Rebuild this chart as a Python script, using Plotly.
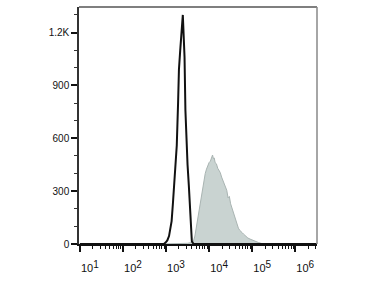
import plotly.graph_objects as go

# Black (unstained/control) histogram: log10 intensity and counts
black_log = [1.0, 2.95, 2.99, 3.03, 3.07, 3.10, 3.13, 3.16, 3.19, 3.22, 3.25, 3.28, 3.30,
             3.33, 3.355, 3.39, 3.41, 3.43, 3.45, 3.47, 3.50, 3.53, 3.56, 3.58, 3.60, 3.64, 6.5]
black_cnt = [0, 0, 8, 20, 45, 85, 130, 230, 340, 450, 560, 800, 990,
             1100, 1200, 1300, 1180, 1060, 760, 600, 450, 330, 200, 80, 15, 0, 0]

# Gray (stained) histogram
gray_log = [2.9, 3.3, 3.5, 3.6, 3.635, 3.67, 3.70, 3.73, 3.76, 3.79, 3.82, 3.85, 3.88, 3.91,
            3.94, 3.97, 4.00, 4.03, 4.06, 4.08, 4.10, 4.12, 4.14, 4.17, 4.20, 4.23, 4.26,
            4.29, 4.32, 4.35, 4.38, 4.41, 4.44, 4.47, 4.50, 4.53, 4.56, 4.59, 4.62, 4.65,
            4.68, 4.71, 4.74, 4.77, 4.80, 4.83, 4.86, 4.90, 4.95, 5.00, 5.05, 5.10, 5.15,
            5.22, 5.3, 5.5, 6.5]
gray_cnt = [0, 2, 4, 8, 15, 45, 90, 140, 180, 215, 260, 300, 355, 400,
            425, 450, 462, 470, 498, 505, 485, 488, 462, 455, 430, 418, 405,
            380, 362, 340, 320, 305, 262, 270, 228, 205, 170, 150, 125, 108,
            90, 78, 68, 64, 56, 48, 40, 34, 28, 22, 16, 14, 8,
            3, 1, 0, 0]

x_tick_vals = [1e1, 1e2, 1e3, 1e4, 1e5, 1e6]
x_exponents = ["1", "2", "3", "4", "5", "6"]
x_tick_text = ["10<sup><span style='font-size:10px'>%s</span></sup>" % e for e in x_exponents]
y_tick_vals = [0, 300, 600, 900, 1200]
y_tick_text = ["0", "300", "600", "900", "1.2K"]

fig = go.Figure()
fig.add_trace(go.Scatter(
    x=[10 ** v for v in gray_log], y=gray_cnt, mode="lines",
    fill="tozeroy", fillcolor="#c9d3d1",
    line=dict(color="#a9b4b2", width=1), hoverinfo="skip"))
fig.add_trace(go.Scatter(
    x=[10 ** v for v in black_log], y=black_cnt, mode="lines",
    line=dict(color="#111111", width=2), hoverinfo="skip"))

font = dict(family="Liberation Sans, Arial, sans-serif", size=10, color="#111")

fig.update_layout(
    width=380, height=285,
    margin=dict(l=79, r=63, t=7, b=41),
    paper_bgcolor="white", plot_bgcolor="white",
    showlegend=False, font=font,
    xaxis=dict(
        type="log", range=[0.98, 6.505],
        tickvals=x_tick_vals, ticktext=x_tick_text,
        ticks="outside", ticklen=6, tickwidth=1.5, tickcolor="#111",
        minor=dict(ticks="outside", ticklen=3, tickwidth=1, tickcolor="#111", dtick="D1"),
        showline=True, linecolor="#111", linewidth=2,
        showgrid=False, zeroline=False,
        ticklabelshift=10, ticklabelstandoff=7,
        tickfont=dict(size=11),
    ),
    yaxis=dict(
        range=[0, 1345],
        tickvals=y_tick_vals, ticktext=y_tick_text,
        ticks="outside", ticklen=6, tickwidth=1.5, tickcolor="#111",
        minor=dict(ticks="outside", ticklen=3, tickwidth=1, tickcolor="#333", dtick=100),
        showline=True, linecolor="#333", linewidth=1.5,
        showgrid=False, zeroline=False,
        tickfont=dict(size=10),
    ),
    shapes=[
        dict(type="line", xref="paper", yref="paper", x0=0, x1=1, y0=1, y1=1,
             line=dict(color="#555", width=1.5)),
        dict(type="line", xref="paper", yref="paper", x0=1, x1=1, y0=0, y1=1,
             line=dict(color="#888", width=1.5)),
    ],
)

fig.write_html("out.html")
